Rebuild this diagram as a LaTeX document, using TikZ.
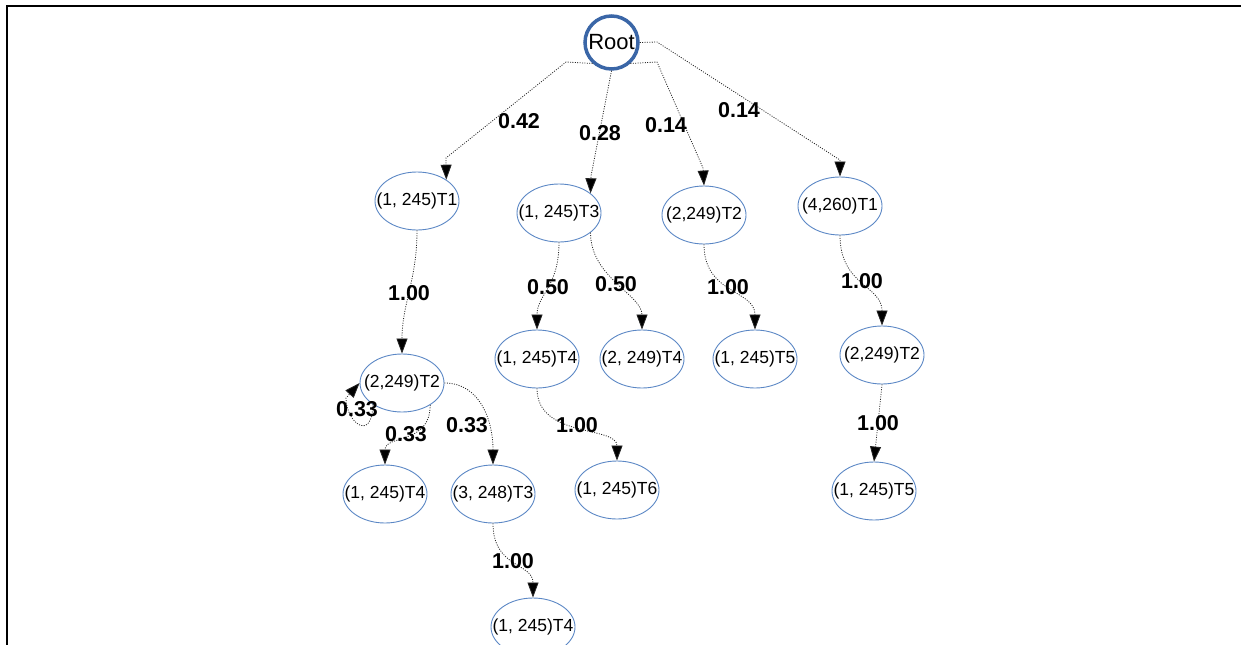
\documentclass[tikz,border=0pt]{standalone}
\usepackage{fontspec}
\setmainfont{Liberation Sans}
\usetikzlibrary{shapes.geometric,arrows.meta}
\definecolor{ellblue}{HTML}{5B87C5}
\definecolor{rootblue}{HTML}{3A66A7}
\newcommand{\zt}[1]{\makebox[0pt]{#1}}
\begin{document}
\begin{tikzpicture}[x=1pt,y=-1pt,
  st/.style={ellipse, draw=ellblue, line width=0.9pt, minimum width=84pt, minimum height=58pt, inner sep=0pt, font=\fontsize{17.5}{20}\selectfont},
  rootst/.style={circle, draw=rootblue, line width=3.5pt, minimum size=53pt, inner sep=0pt, font=\fontsize{22}{26}\selectfont},
  conn/.style={dash pattern=on 1pt off 1.4pt, line width=0.8pt, draw=black!85, -{Triangle[length=15pt,width=11pt,fill=black]}},
  lbl/.style={font=\fontsize{21.5}{24}\selectfont\bfseries, inner sep=0pt}]
\useasboundingbox (0,0) rectangle (1250,645);
\draw[line width=2pt] (7,645) -- (7,6) -- (1241,6);

% nodes
\node[rootst] (root) at (611.5,42.5) {\zt{Root}};
\node[st] (t1a) at (417,201) {\zt{(1, 245)T1}};
\node[st] (t3a) at (559,213) {\zt{(1, 245)T3}};
\node[st] (t2a) at (704,215) {\zt{(2,249)T2}};
\node[st] (t1b) at (840,206) {\zt{(4,260)T1}};
\node[st] (t2b) at (402,383) {\zt{(2,249)T2}};
\node[st] (t4a) at (537,359) {\zt{(1, 245)T4}};
\node[st] (t4b) at (642,359) {\zt{(2, 249)T4}};
\node[st] (t5a) at (755,359) {\zt{(1, 245)T5}};
\node[st] (t2c) at (882,355) {\zt{(2,249)T2}};
\node[st] (t4c) at (385,494) {\zt{(1, 245)T4}};
\node[st] (t3b) at (493,494) {\zt{(3, 248)T3}};
\node[st] (t6a) at (617,490) {\zt{(1, 245)T6}};
\node[st] (t5b) at (874,491) {\zt{(1, 245)T5}};
\node[st] (t4d) at (533,627) {\zt{(1, 245)T4}};

% connectors
\draw[conn] (root.228) -- (566,62) -- (446,158) -- (t1a.36);
\draw[conn] (root.south) -- (591,176) -- (t3a.32);
\draw[conn] (root.312) -- (657,62) -- (703,168) -- (t2a.north);
\draw[conn] (root.east) -- (657,42) -- (840,160) -- (t1b.north);
\draw[conn] (t1a.south) .. controls +(0,50) and +(0,-50) .. (t2b.north);
\draw[conn] (t2b.216) .. controls +(0,38) and +(0,25) .. (346,398) -- (t2b.west);
\draw[conn] (t2b.322) .. controls +(0,40) and +(0,-30) .. (t4c.north);
\draw[conn] (t2b.east) .. controls +(35,0) and +(0,-45) .. (t3b.north);
\draw[conn] (t3b.south) .. controls +(0,45) and +(0,-35) .. (t4d.north);
\draw[conn] (t3a.south) .. controls +(0,45) and +(0,-35) .. (t4a.north);
\draw[conn] (t3a.328) .. controls +(0,45) and +(0,-35) .. (t4b.north);
\draw[conn] (t2a.south) .. controls +(0,50) and +(0,-40) .. (t5a.north);
\draw[conn] (t1b.south) .. controls +(0,50) and +(0,-40) .. (t2c.north);
\draw[conn] (t2c.south) -- (t5b.north);
\draw[conn] (t4a.south) .. controls +(0,50) and +(0,-35) .. (t6a.north);

% labels
\node[lbl] (l1) at (519,121) {0.42};
\node[lbl] (l2) at (600,133) {0.28};
\node[lbl] (l3) at (666,125) {0.14};
\node[lbl] (l4) at (739,110) {0.14};
\node[lbl] (l5) at (409,293) {1.00};
\node[lbl] (l6) at (357,409) {0.33};
\node[lbl] (l7) at (406,434) {0.33};
\node[lbl] (l8) at (467,425) {0.33};
\node[lbl] (l9) at (513,561) {1.00};
\node[lbl] (l10) at (548,287) {0.50};
\node[lbl] (l11) at (616,284) {0.50};
\node[lbl] (l12) at (728,287) {1.00};
\node[lbl] (l13) at (862,281) {1.00};
\node[lbl] (l14) at (878,423) {1.00};
\node[lbl] (l15) at (577,425) {1.00};
\end{tikzpicture}
\end{document}
